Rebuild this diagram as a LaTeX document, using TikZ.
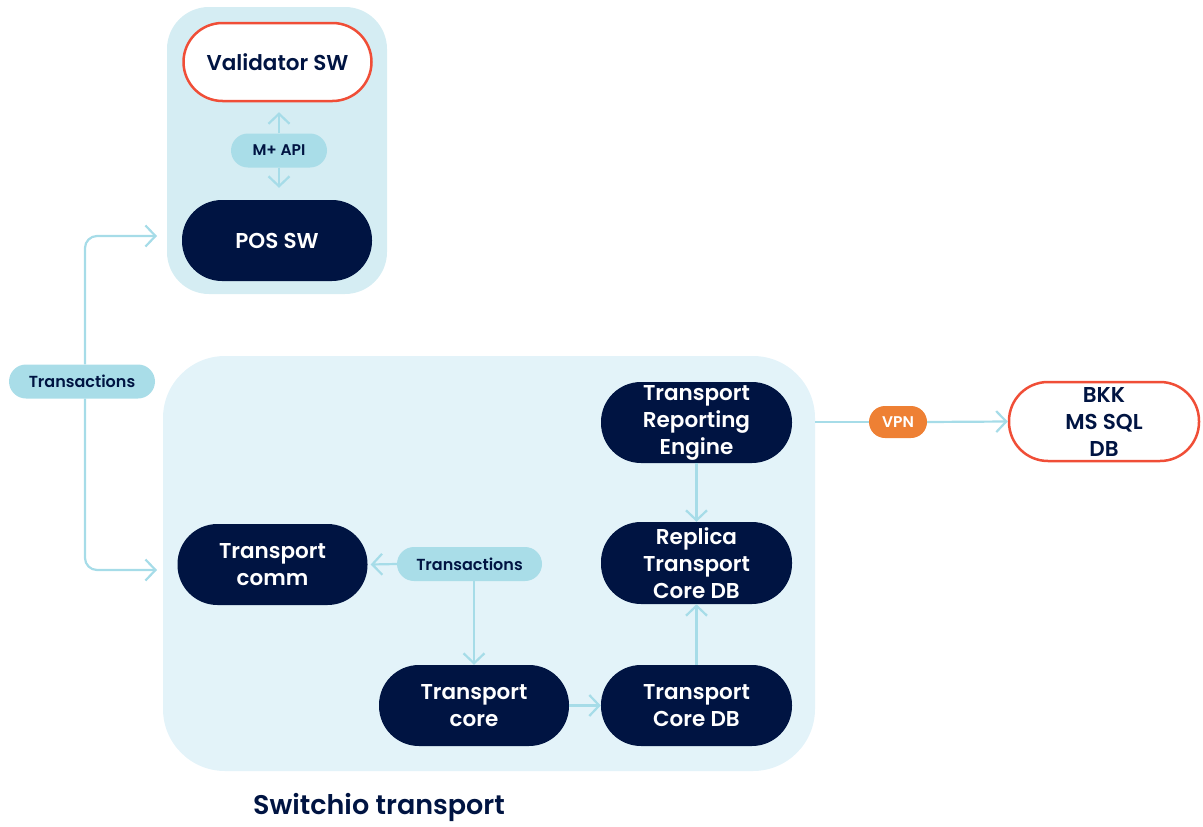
\documentclass[tikz,border=0pt]{standalone}
\usepackage{fontspec}
\IfFontExistsTF{Poppins SemiBold}{\setmainfont{Poppins}[BoldFont={Poppins SemiBold}]}{\setmainfont{Poppins}}
\usetikzlibrary{arrows.meta}
\definecolor{navy}{HTML}{001442}
\definecolor{boxA}{HTML}{D5EDF3}
\definecolor{boxB}{HTML}{E3F3F9}
\definecolor{pillc}{HTML}{A9DDE8}
\definecolor{linec}{HTML}{A6DCE8}
\definecolor{redc}{HTML}{F04E37}
\definecolor{orangec}{HTML}{EE8034}
\tikzset{
  darknode/.style={draw=none, fill=navy, text=white, rounded corners=40pt, minimum width=190pt, minimum height=81pt, align=center, font=\fontsize{21.5}{27}\selectfont\bfseries, inner sep=0pt},
  rednode/.style={draw=redc, line width=2.5pt, fill=white, text=navy, rounded corners=39pt, minimum width=188pt, minimum height=78pt, align=center, font=\fontsize{21.5}{27}\selectfont\bfseries, inner sep=0pt},
  pill/.style={fill=pillc, text=navy, rounded corners=17pt, minimum height=34pt, inner sep=0pt, font=\fontsize{16}{18}\selectfont\bfseries},
  conn/.style={draw=linec, line width=2.2pt, -{Straight Barb[length=10pt,width=21pt,line width=2.2pt]}},
}
\begin{document}
\begin{tikzpicture}[x=1pt,y=-1pt]
\useasboundingbox (0,0) rectangle (1203,827);
% containers
\fill[boxA, rounded corners=42pt] (167,7) rectangle (387,294);
\fill[boxB, rounded corners=62pt] (163,356) rectangle (815,771);
% nodes
\node[rednode] (val) at (277.5,62) {Validator SW};
\node[darknode] (pos) at (277,240.5) {POS SW};
\node[pill, minimum width=96pt, font=\fontsize{15.5}{17}\selectfont\bfseries] (api) at (279,150.5) {M+ API};
\node[pill, minimum width=146pt] (tr1) at (82,381.5) {Transactions};
\node[darknode] (comm) at (272.5,564.5) {Transport\\comm};
\node[pill, minimum width=145pt] (tr2) at (469.5,564) {Transactions};
\node[darknode] (core) at (474,705.5) {Transport\\core};
\node[darknode, minimum width=191pt] (cdb) at (696.5,705.5) {Transport\\Core DB};
\node[darknode, minimum width=191pt, minimum height=82pt] (rep) at (696.5,563) {Replica\\Transport\\Core DB};
\node[darknode, minimum width=191pt] (eng) at (696.5,422.5) {Transport\\Reporting\\Engine};
\node[rednode, minimum width=190pt, minimum height=79pt] (bkk) at (1104,421.5) {BKK\\MS SQL\\DB};
\node[fill=orangec, text=white, rounded corners=16pt, minimum width=58pt, minimum height=32pt, inner sep=0pt, font=\fontsize{15.5}{17}\selectfont\bfseries] (vpn) at (898,422) {VPN};
\node[text=navy, font=\fontsize{27}{30}\selectfont\bfseries] (title) at (379,807) {Switchio transport};
% connectors
\coordinate (t1) at (157,236);
\coordinate (t2) at (157,570);
\coordinate (rail) at (85,381.5);
\draw[conn, rounded corners=12pt] (tr1.north -| rail) -- (rail |- t1) -- (t1);
\draw[conn, rounded corners=12pt] (tr1.south -| rail) -- (rail |- t2) -- (t2);
\draw[conn] (api.north) -- ([yshift=-10pt]val.south -| api);
\draw[conn] (api.south) -- ([yshift=12pt]pos.north -| api);
\draw[conn] (tr2.west) -- ([xshift=3pt]comm.east);
\draw[conn] (tr2.south -| core) -- (core.north);
\draw[conn] (core.east) -- (cdb.west);
\draw[conn] (cdb.north) -- (rep.south);
\draw[conn] (eng.south) -- (rep.north);
\coordinate (vstart) at (815,422);
\draw[draw=linec, line width=2.2pt] (vstart) -- (vpn.west);
\draw[conn] (vpn.east) -- (bkk.west);
\end{tikzpicture}
\end{document}
